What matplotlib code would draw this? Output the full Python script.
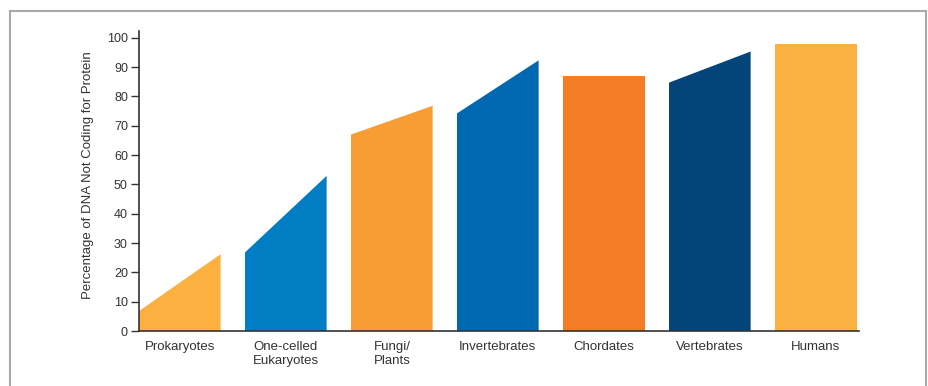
import numpy as np
import matplotlib
matplotlib.use("Agg")
from matplotlib import pyplot as plt
from matplotlib.lines import Line2D

# Data
categories  = ["Prokaryotes", "One-celled\nEukaryotes", "Fungi/\nPlants", "Invertebrates",
               "Chordates", "Vertebrates", "Humans"]
low_values  = [6.8, 26.8, 67.0, 74.2, 86.8, 84.7, 97.7]   # left edge of each band
high_values = [26.2, 52.9, 76.8, 92.3, 86.8, 95.3, 97.7]  # right edge of each band
colors      = ["#FBB040", "#007DC3", "#F79D34", "#0068B1", "#F37D24", "#03457A", "#FBB042"]

plt.rcParams["font.family"] = ["Liberation Sans", "DejaVu Sans"]

W, H = 929, 386
fig = plt.figure(figsize=(W / 100, H / 100), dpi=100)
ax = fig.add_axes([139 / W, (H - 331) / H, (859.3 - 139) / W, (331 - 30.7) / H])

width = 0.77
for i, (lo, hi, c) in enumerate(zip(low_values, high_values, colors)):
    ax.fill([i, i, i + width, i + width], [0, lo, hi, 0], color=c, lw=0)

ax.set_xlim(0, 6.795)
ax.set_ylim(0, 102.4)
ax.set_yticks(np.arange(0, 101, 10))
ax.set_xticks(np.arange(len(categories)) + width / 2)
ax.set_xticklabels(categories, fontsize=9.5, color="#333333", linespacing=1.3)
ax.tick_params(axis="x", length=0, pad=7)
ax.tick_params(axis="y", length=6, width=1, color="#333333", labelsize=9, labelcolor="#333333", pad=2)
ax.set_ylabel("Percentage of DNA Not Coding for Protein", fontsize=9.5, color="#333333", labelpad=9.5)
ax.yaxis.label.set_y(0.52)

for s in ["top", "right"]:
    ax.spines[s].set_visible(False)
for s in ["left", "bottom"]:
    ax.spines[s].set_color("#333333")
    ax.spines[s].set_linewidth(1.2)

# Grey panel frame (bottom edge runs off the image)
frame = dict(color="#a8a8a8", lw=1.5, transform=fig.transFigure)
x0, x1, yt = 10.5 / W, 926 / W, 1 - 10.5 / H
fig.lines.append(Line2D([x0, x0], [0, yt], **frame))
fig.lines.append(Line2D([x0, x1], [yt, yt], **frame))
fig.lines.append(Line2D([x1, x1], [0, yt], **frame))

fig.savefig("out.png", dpi=100)
